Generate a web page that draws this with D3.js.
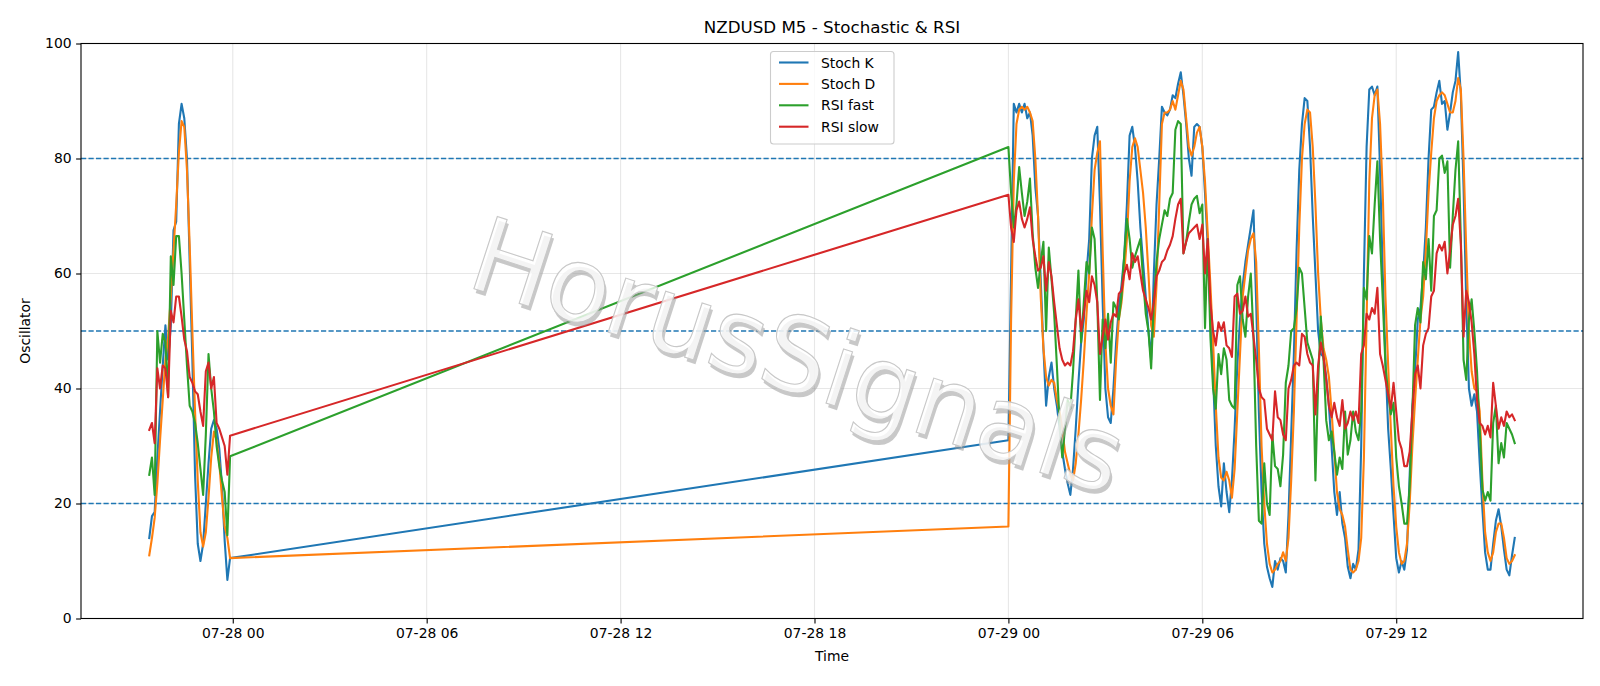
<!DOCTYPE html>
<html>
<head>
<meta charset="utf-8">
<script src="https://cdn.jsdelivr.net/npm/d3@7"></script>
<style>
  html, body { margin: 0; padding: 0; background: #fff; }
  svg { display: block; font-family: "DejaVu Sans", sans-serif; }
</style>
</head>
<body>
<svg id="chart" width="1600" height="686"></svg>
<script>
// M5 bars: first block 07-27 21:25..23:55, second block 07-29 00:00..15:40
const seg1Start = "2025-07-27T21:25:00Z";
const seg2Start = "2025-07-29T00:00:00Z";

const stochK1 = [14, 17.8, 18.5, 28, 36, 44, 51, 45, 51, 67.5, 69, 86, 89.5, 87, 80, 62, 45, 25, 13, 10,
  13, 20, 27, 33, 34.5, 33, 29.5, 23, 13.5, 6.7, 10.5];
const stochD1 = [11, 14, 17.5, 23.5, 31, 38, 45, 49, 56, 64, 72, 81, 86.5, 85.5, 78, 65, 50, 36, 24, 15,
  12.5, 15, 21, 28, 32.5, 31, 27, 21, 16, 14, 10.5];
const rsiFast1 = [25, 28, 21.5, 50, 44.5, 49.5, 48, 38.5, 63, 58, 66.5, 66.5, 60, 52, 44, 37, 36, 34, 30.5, 26,
  21.5, 32, 46, 40, 36, 30, 26.5, 24, 22, 14.5, 28.2];
const rsiSlow1 = [32.8, 34, 30.5, 43.5, 40, 44, 43.5, 38.5, 53.5, 51.5, 56, 56, 52.5, 48.5, 46.5, 42, 41, 39.5, 39, 36,
  33.5, 43, 44.5, 40, 42, 34, 33, 31.5, 30, 25, 31.8];

const stochK2 = [
  31, 60, 89.5, 88, 89.5, 88, 89.5, 87, 88, 84,
  75, 70, 59, 47, 37, 42, 44.5, 40, 37, 33,
  29, 26, 23.5, 21.5, 26, 33, 41, 48, 52, 60,
  66, 80, 84, 85.5, 72, 55, 40, 35, 34, 40,
  48, 54, 58, 63, 72, 84, 85.5, 82, 76, 68,
  62, 56, 50, 45, 60, 72, 80, 89, 88, 87.5,
  88.5, 91, 90.5, 93, 95, 91, 86, 80, 77, 85.5,
  86, 85.5, 82, 74, 65, 53, 42, 30, 23, 19.5,
  27, 22, 18.5, 24, 33, 44, 52, 58, 62, 65,
  68, 71, 55, 36, 22, 13, 9, 7, 5.5, 10,
  8.5, 10.5, 10, 8, 18, 32, 46, 64, 78, 86,
  90.5, 90, 82, 70, 60, 50, 46, 45.5, 42, 37,
  30, 22, 18, 22, 16.5, 14, 9, 7, 9.5, 8.5,
  12, 30, 60, 82, 92, 92.5, 91, 92.5, 78, 60,
  45, 33, 26, 18, 10.5, 8, 10, 8.5, 12, 25,
  37, 43, 52, 54, 60, 68, 80, 88.5, 89, 91.5,
  93.5, 89.5, 90, 85, 88, 91.5, 93.5, 98.5, 91, 75,
  55, 40, 37, 39, 36, 27, 19, 11.5, 8.5, 8.5,
  13, 17, 19, 16, 12, 8.5, 7.5, 11, 14];
const stochD2 = [
  16, 52, 76, 86, 88.5, 89, 88.5, 89, 88, 86.5,
  80, 70, 56, 47, 42, 40.5, 41.5, 41, 38, 36,
  33, 29, 27, 25, 24, 27, 32, 38, 45, 53,
  60, 70, 78, 81, 83, 64, 48, 40, 37, 35.5,
  45, 52, 55, 60, 66, 76, 82, 83.5, 82, 78,
  74, 68, 60, 51, 49, 58, 72, 86, 88, 88,
  88.5, 90, 88.5, 91, 93.5, 92, 87, 82, 80.5, 82,
  84.5, 85.5, 82, 76, 67, 58, 48, 37, 28, 24.5,
  24, 25.5, 24, 21, 26, 36, 46, 56, 60, 64,
  66, 67, 62, 47, 30, 20, 13, 9.5, 8, 8.5,
  9.5, 10, 11.5, 10, 14, 24, 36, 52, 68, 80,
  86, 88.5, 88, 82, 72, 60, 52, 47, 45, 42,
  36, 29, 22, 19, 18, 16, 12, 8.5, 8, 8.5,
  10, 14, 28, 52, 76, 87, 91, 92, 86, 74,
  56, 44, 33, 23, 16, 11.5, 9.5, 10, 13, 20,
  30, 38, 45, 52, 56, 64, 74, 81, 87, 90,
  91, 91.5, 91, 89.5, 88, 88, 90, 94, 92, 80,
  64, 50, 43, 40, 39.5, 36, 24, 15, 11.5, 10,
  11.5, 15, 16.5, 16.5, 14, 10.5, 9.5, 10, 11];
const rsiFast2 = [
  82, 74, 68, 72, 78.5, 74, 70, 72.5, 76.5, 67,
  61, 57.5, 62, 65.5, 50, 64.5, 59, 53, 44, 34,
  28, 33, 38, 36.5, 43, 52, 60.5, 48, 55, 62,
  60, 68, 66, 55, 38, 52, 47, 53, 44.5, 55,
  54, 52, 56, 63, 69.5, 66, 61, 63, 64.5, 66,
  59, 53, 50, 43.5, 55, 62, 66, 68.5, 71, 70,
  73, 74, 85, 86.5, 86, 63.5, 65.5, 69, 72, 73,
  73.5, 70.5, 72, 50.5, 66, 49, 40, 36.5, 46, 42.5,
  47, 45, 38, 37, 36.5, 58, 59.5, 52, 49, 56,
  60, 49, 30, 17, 16.5, 27, 20, 18, 32, 26.5,
  26, 23, 28.5, 41, 44, 50, 50.5, 54, 61, 60,
  54, 48, 46.5, 45, 24, 41, 52.5, 45, 34.5, 31,
  32.5, 29, 25, 28, 26, 36, 28.5, 31, 36, 32.5,
  31, 36, 57.5, 55.5, 66.5, 63.5, 72, 79.5, 66, 55.5,
  44, 39, 35.5, 37.5, 28, 23, 20, 16.5, 16.5, 23,
  36, 51, 54, 51.5, 62, 59, 66, 57, 70, 71,
  80, 80.5, 77.5, 79.5, 61, 70, 78, 83, 66, 45,
  41.5, 52, 55.5, 50, 43, 33, 22.5, 20.5, 22, 20.5,
  34, 37, 27, 30.5, 28, 34, 33, 32, 30.5];
const rsiSlow2 = [
  73.7, 68, 65.5, 71, 72.5, 69.5, 68, 69.5, 71.5, 66,
  63, 60.5, 61, 63, 57, 62, 59.5, 55, 51, 47,
  45, 44, 44.5, 44, 46.5, 52, 55.5, 50, 53, 57,
  55, 59.5, 58, 55, 46, 49, 52, 48.5, 51.5, 53,
  52.5, 56.5, 57, 60, 61.5, 59, 63.5, 62, 63, 60,
  57, 55.5, 54, 52, 55, 59.5, 60.5, 62, 62.5, 64,
  65, 66.5, 69.5, 72, 73, 63.5, 65.5, 67, 67.5, 68,
  68.5, 66, 68.5, 60, 66, 55, 50, 47.5, 51.5, 50,
  51.5, 47.5, 47, 45.5, 56, 56.5, 53, 53.5, 56, 52.5,
  53, 49, 45, 40, 38.5, 38, 33, 32, 31, 39.5,
  35, 34.5, 32, 31, 40, 41.5, 44, 44.5, 44, 49.5,
  49, 46, 44.5, 44, 35.5, 44, 48, 45.5, 41.5, 37,
  35, 37.5, 35, 33.5, 38, 33, 34, 36, 34.5, 36,
  34, 46, 47.5, 53, 52, 54, 53, 57.5, 46, 44,
  41.5, 39, 36.5, 41, 36, 31, 29.5, 26.5, 26.5, 29,
  36, 42.5, 44, 40, 47.5, 49.5, 50.5, 56, 57, 63.5,
  65, 64, 65.5, 60, 64, 68.5, 70, 73, 65, 49,
  57, 55, 51.5, 46, 38, 34, 33.5, 32, 33.5, 31.5,
  41, 37, 33, 35, 33.5, 36, 35, 35.5, 34.5];

const xTickLabels = ["07-28 00", "07-28 06", "07-28 12", "07-28 18", "07-29 00", "07-29 06", "07-29 12"];
const yTicks = [0, 20, 40, 60, 80, 100];
const levels = [20, 50, 80];
const seriesNames = ["Stoch K", "Stoch D", "RSI fast", "RSI slow"];
const seriesColors = ["#1f77b4", "#ff7f0e", "#2ca02c", "#d62728"];

const svg = d3.select("#chart");
const W = 1600, H = 686;
const plot = { left: 81, right: 1583, top: 43.5, bottom: 618.5 };

// timestamps for both blocks
const times1 = stochK1.map((_, i) => d3.utcMinute.offset(new Date(seg1Start), 5 * i));
const times2 = stochK2.map((_, i) => d3.utcMinute.offset(new Date(seg2Start), 5 * i));
const times = times1.concat(times2);

const series = [
  stochK1.concat(stochK2),
  stochD1.concat(stochD2),
  rsiFast1.concat(rsiFast2),
  rsiSlow1.concat(rsiSlow2)
];

// matplotlib-like 5% margin on x
const tMin = +times[0], tMax = +times[times.length - 1];
const pad = (tMax - tMin) * 0.05;
const x = d3.scaleUtc()
  .domain([new Date(tMin - pad), new Date(tMax + pad)])
  .range([plot.left, plot.right]);
const y = d3.scaleLinear().domain([0, 100]).range([plot.bottom, plot.top]);

svg.append("rect").attr("width", W).attr("height", H).attr("fill", "#fff");

const parseTick = d3.utcParse("%Y-%m-%d %H");
const tickDates = xTickLabels.map(s => parseTick("2025-" + s));

// grid
const grid = svg.append("g");
grid.selectAll(".gx").data(tickDates).enter().append("line")
  .attr("x1", d => x(d)).attr("x2", d => x(d))
  .attr("y1", plot.top).attr("y2", plot.bottom)
  .attr("stroke", "#b0b0b0").attr("stroke-opacity", 0.3).attr("stroke-width", 1.1);
grid.selectAll(".gy").data(yTicks).enter().append("line")
  .attr("x1", plot.left).attr("x2", plot.right)
  .attr("y1", d => y(d)).attr("y2", d => y(d))
  .attr("stroke", "#b0b0b0").attr("stroke-opacity", 0.3).attr("stroke-width", 1.1);

// reference levels
svg.append("g").selectAll("line").data(levels).enter().append("line")
  .attr("x1", plot.left).attr("x2", plot.right)
  .attr("y1", d => y(d)).attr("y2", d => y(d))
  .attr("stroke", "#1f77b4").attr("stroke-width", 1.4)
  .attr("stroke-dasharray", "5.2,2.3");

// series lines
const line = d3.line()
  .x((d, i) => x(times[i]))
  .y(d => y(d));

svg.append("clipPath").attr("id", "clip").append("rect")
  .attr("x", plot.left).attr("y", plot.top)
  .attr("width", plot.right - plot.left).attr("height", plot.bottom - plot.top);

svg.append("g").attr("clip-path", "url(#clip)")
  .selectAll("path").data(series).enter().append("path")
  .attr("d", d => line(d))
  .attr("fill", "none")
  .attr("stroke", (d, i) => seriesColors[i])
  .attr("stroke-width", 2.1)
  .attr("stroke-linejoin", "round")
  .attr("stroke-linecap", "square");

// axes
const xAxis = d3.axisBottom(x).tickValues(tickDates)
  .tickFormat(d3.utcFormat("%m-%d %H")).tickSize(4.9).tickPadding(4.5);
const yAxis = d3.axisLeft(y).tickValues(yTicks).tickSize(4.9).tickPadding(4.5);

const gx = svg.append("g").attr("transform", `translate(0,${plot.bottom})`).call(xAxis);
const gy = svg.append("g").attr("transform", `translate(${plot.left},0)`).call(yAxis);
[gx, gy].forEach(g => {
  g.select(".domain").remove();
  g.selectAll(".tick line").attr("stroke", "#000").attr("stroke-width", 1.1);
  g.selectAll(".tick text").attr("fill", "#000")
    .style("font-family", "DejaVu Sans").style("font-size", "13.9px");
});

// frame
svg.append("rect")
  .attr("x", plot.left).attr("y", plot.top)
  .attr("width", plot.right - plot.left).attr("height", plot.bottom - plot.top)
  .attr("fill", "none").attr("stroke", "#000").attr("stroke-width", 1.1);

// title + labels
svg.append("text").attr("x", (plot.left + plot.right) / 2).attr("y", 32.5)
  .attr("text-anchor", "middle").style("font-size", "16.7px")
  .text("NZDUSD M5 - Stochastic & RSI");
svg.append("text").attr("x", (plot.left + plot.right) / 2).attr("y", 661)
  .attr("text-anchor", "middle").style("font-size", "13.9px").text("Time");
svg.append("text")
  .attr("transform", `translate(30,${(plot.top + plot.bottom) / 2}) rotate(-90)`)
  .attr("text-anchor", "middle").style("font-size", "13.9px").text("Oscillator");

// legend
const lg = svg.append("g");
lg.append("rect").attr("x", 770.5).attr("y", 51.5).attr("width", 123.5).attr("height", 92.5)
  .attr("rx", 3).attr("fill", "#fff").attr("fill-opacity", 0.8)
  .attr("stroke", "#cccccc").attr("stroke-width", 1.1);
seriesNames.forEach((name, i) => {
  const yy = 62.5 + i * 21.4;
  lg.append("line").attr("x1", 779).attr("x2", 808.5).attr("y1", yy).attr("y2", yy)
    .attr("stroke", seriesColors[i]).attr("stroke-width", 2.1);
  lg.append("text").attr("x", 821).attr("y", yy).attr("dy", "0.36em")
    .style("font-size", "13.9px").text(name);
});

// watermark
const wm = svg.append("g").attr("transform", "translate(798,356) rotate(18)");
wm.append("text").attr("x", 3).attr("y", 3.5)
  .attr("text-anchor", "middle").attr("dominant-baseline", "central")
  .style("font-size", "104px").attr("fill", "#9a9a9a").attr("fill-opacity", 0.55)
  .text("HorusSignals");
wm.append("text")
  .attr("text-anchor", "middle").attr("dominant-baseline", "central")
  .style("font-size", "104px").attr("fill", "#ffffff").attr("fill-opacity", 0.8)
  .attr("stroke", "#c8c8c8").attr("stroke-width", 1.1)
  .text("HorusSignals");
</script>
</body>
</html>
